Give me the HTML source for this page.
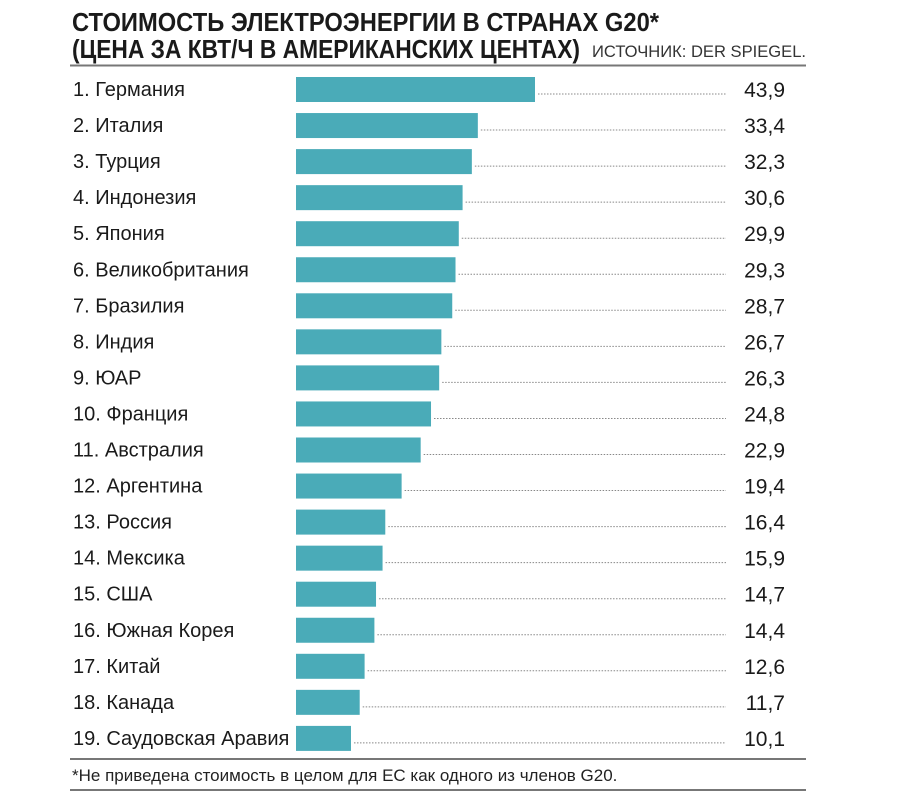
<!DOCTYPE html>
<html><head><meta charset="utf-8"><style>
body{margin:0;background:#fff}
svg{display:block;font-family:"Liberation Sans Narrow","Liberation Sans",sans-serif}
</style></head><body>
<svg id="c" width="900" height="804">
<text x="72" y="31" font-size="26" font-weight="bold" fill="#1a1a1a" textLength="587" lengthAdjust="spacingAndGlyphs">СТОИМОСТЬ ЭЛЕКТРОЭНЕРГИИ В СТРАНАХ G20*</text>
<text x="72" y="58" font-size="26" font-weight="bold" fill="#1a1a1a" textLength="508" lengthAdjust="spacingAndGlyphs">(ЦЕНА ЗА КВТ/Ч В АМЕРИКАНСКИХ ЦЕНТАХ)</text>
<text x="592" y="57" font-size="17" fill="#333" textLength="214" lengthAdjust="spacingAndGlyphs">ИСТОЧНИК: DER SPIEGEL.</text>
<line x1="70" y1="65.5" x2="806" y2="65.5" stroke="#777" stroke-width="2"/>
<line x1="70" y1="759" x2="806" y2="759" stroke="#777" stroke-width="2"/>
<text x="72" y="781" font-size="17" fill="#222">*Не приведена стоимость в целом для ЕС как одного из членов G20.</text>
<line x1="70" y1="790" x2="806" y2="790" stroke="#777" stroke-width="2"/>
<g id="rows"></g>
</svg>
<script>
const categories=["1. Германия","2. Италия","3. Турция","4. Индонезия","5. Япония","6. Великобритания","7. Бразилия","8. Индия","9. ЮАР","10. Франция","11. Австралия","12. Аргентина","13. Россия","14. Мексика","15. США","16. Южная Корея","17. Китай","18. Канада","19. Саудовская Аравия"];
const values=[43.9,33.4,32.3,30.6,29.9,29.3,28.7,26.7,26.3,24.8,22.9,19.4,16.4,15.9,14.7,14.4,12.6,11.7,10.1];
const valueLabels=["43,9","33,4","32,3","30,6","29,9","29,3","28,7","26,7","26,3","24,8","22,9","19,4","16,4","15,9","14,7","14,4","12,6","11,7","10,1"];
const NS="http://www.w3.org/2000/svg";
const x0=296,scale=239/43.9;
function xs(v){return x0+v*scale;}
function ys(i){return 77+i*36.05;}
const g=document.getElementById('rows');
categories.forEach((c,i)=>{
 const y=ys(i);
 const t=document.createElementNS(NS,'text');
 t.setAttribute('x',73);t.setAttribute('y',y+19);t.setAttribute('font-size','20');t.setAttribute('fill','#1a1a1a');
 t.textContent=c;
 
 
 g.appendChild(t);
 const r=document.createElementNS(NS,'rect');
 r.setAttribute('x',x0);r.setAttribute('y',y);r.setAttribute('width',xs(values[i])-x0);r.setAttribute('height',25);r.setAttribute('fill','#4aabb8');
 
 
 g.appendChild(r);
 const l=document.createElementNS(NS,'line');
 l.setAttribute('x1',xs(values[i])+3);l.setAttribute('x2',726);l.setAttribute('y1',y+17);l.setAttribute('y2',y+17);
 l.setAttribute('stroke','#888');l.setAttribute('stroke-width','1');l.setAttribute('stroke-dasharray','1.5 1.5');
 
 
 g.appendChild(l);
 const v=document.createElementNS(NS,'text');
 v.setAttribute('x',785);v.setAttribute('y',y+20);v.setAttribute('font-size','21');v.setAttribute('text-anchor','end');v.setAttribute('fill','#1a1a1a');
 v.textContent=valueLabels[i];
 
 
 g.appendChild(v);
});
</script>
</body></html>
